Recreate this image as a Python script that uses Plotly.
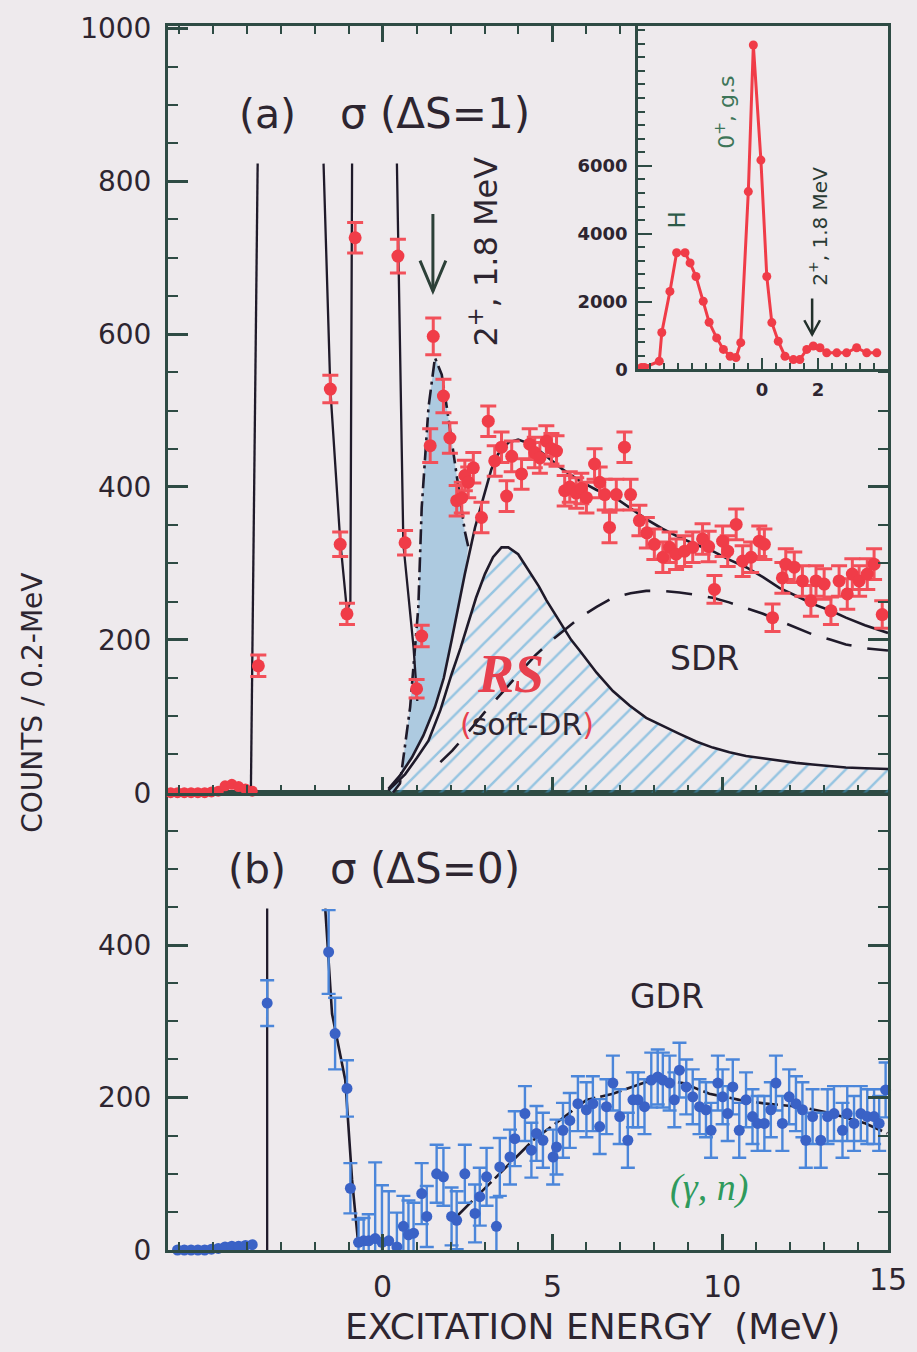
import plotly.graph_objects as go

# ---------------- panel (a): sigma(dS=1) ----------------
# flat region below the first peak
a_base_E = [-6.24, -6.04, -5.84, -5.64, -5.44, -5.24, -5.04, -4.84, -4.64, -4.44, -4.24, -4.04, -3.84]
a_base_cnt = [0, 0, 0, 0, 0, 0, 1, 2, 9, 11, 8, 5, 2]
a_base_err = [3] * 13

# discrete peaks and continuum (counts / 0.2 MeV)
a_E = [-3.66, -1.54, -1.25, -1.05, -0.81, 0.45, 0.66, 1.00, 1.15,
       1.40, 1.49, 1.79, 1.98, 2.18, 2.33, 2.42, 2.52, 2.67, 2.91, 3.11, 3.30, 3.50,
       3.65, 3.80, 4.09, 4.33, 4.48, 4.63, 4.82, 4.97, 5.12, 5.36, 5.51, 5.70, 5.85,
       6.00, 6.24, 6.39, 6.54, 6.68, 6.88, 7.12, 7.30, 7.56, 7.78, 8.00, 8.25, 8.45,
       8.64, 8.89, 9.13, 9.42, 9.60, 9.77, 10.01, 10.16, 10.41, 10.60, 10.85, 11.09,
       11.24, 11.48, 11.77, 11.87, 12.12, 12.36, 12.61, 12.76, 13.00, 13.20, 13.44,
       13.68, 13.83, 14.03, 14.27, 14.47, 14.71]
a_cnt = [166, 528, 325, 234, 726, 702, 327, 136, 205,
         454, 597, 519, 464, 382, 386, 415, 406, 425, 360, 486, 434, 452,
         388, 440, 417, 456, 445, 438, 460, 450, 447, 395, 400, 392, 398,
         386, 430, 406, 390, 347, 390, 452, 390, 356, 340, 325, 308, 321,
         312, 316, 321, 332, 322, 266, 329, 316, 351, 303, 308, 329,
         325, 229, 281, 299, 295, 277, 251, 277, 273, 238, 277,
         260, 286, 277, 286, 299, 233]
a_err = [14, 18, 16, 14, 20, 22, 16, 12, 14,
         22, 24, 22, 20, 20, 20, 20, 20, 20, 20, 20, 20, 20,
         20, 20, 20, 20, 20, 20, 20, 20, 20, 20, 20, 20, 20,
         20, 20, 20, 20, 20, 20, 20, 20, 20, 20, 20, 20, 20,
         20, 20, 20, 20, 20, 18, 20, 20, 20, 20, 20, 20,
         20, 18, 20, 20, 20, 20, 20, 20, 20, 18, 20,
         20, 20, 20, 20, 20, 18]

# fitted peak shapes (drawn only up to the clip height)
pk1_E = [-3.88, -3.68]
pk1_cnt = [0, 823]
gs_E = [-1.74, -1.54, -1.25, -1.05, -0.95, -0.92, -0.90]
gs_cnt = [823, 528, 330, 238, 250, 500, 823]
gs_tail_E = [0.42, 0.61, 0.91, 1.00, 1.02]
gs_tail_cnt = [823, 325, 190, 133, 120]

# 2+ (1.8 MeV) state, dash-dot
s2_E = [0.30, 0.51, 0.81, 1.05, 1.15, 1.35, 1.54, 1.74, 1.89, 2.18, 2.42, 2.52]
s2_cnt = [0, 12, 112, 242, 373, 504, 569, 547, 504, 417, 342, 322]

# total fit
tot_E = [0.17, 0.50, 0.86, 1.20, 1.54, 1.80, 2.03, 2.22, 2.42, 2.72, 3.01, 3.20, 3.40,
         3.70, 3.99, 4.30, 4.63, 4.82, 5.30, 5.80, 6.30, 6.78, 7.30, 7.76, 8.25, 8.74,
         9.20, 9.72, 10.20, 10.70, 11.20, 11.68, 12.20, 12.66, 13.20, 13.64, 14.20, 14.88]
tot_cnt = [5, 22, 46, 75, 112, 150, 199, 243, 286, 347, 395, 423, 443,
           458, 462, 457, 447, 440, 423, 408, 396, 388, 372, 358, 345, 334,
           325, 316, 305, 295, 282, 268, 257, 247, 238, 229, 219, 209]

# soft dipole resonance (RS)
rs_E = [0.17, 0.66, 1.00, 1.35, 1.70, 2.03, 2.30, 2.52, 2.75, 3.01, 3.25, 3.50, 3.70,
        3.99, 4.20, 4.38, 4.60, 4.82, 5.06, 5.31, 5.55, 5.80, 6.30, 6.78, 7.27, 7.76,
        8.25, 8.74, 9.23, 9.72, 10.21, 10.70, 11.19, 11.68, 12.17, 12.66, 13.15,
        13.64, 14.20, 14.88]
rs_cnt = [3, 24, 45, 68, 108, 155, 190, 221, 255, 286, 308, 321, 321,
          312, 298, 286, 270, 252, 235, 217, 200, 186, 157, 133, 114, 98,
          87, 77, 67, 59, 53, 48, 45, 42, 39, 37, 35,
          33, 32, 31]

# spin-dipole resonance (SDR)
sdr_E = [1.70, 2.05, 2.50, 3.00, 3.50, 4.00, 4.50, 5.00, 5.40, 5.80, 6.30, 6.78, 7.30,
         7.76, 8.25, 8.74, 9.20, 9.72, 10.20, 10.70, 11.20, 11.68, 12.20, 12.66, 13.20,
         13.64, 14.20, 14.88]
sdr_cnt = [40, 55, 78, 105, 130, 155, 180, 200, 215, 229, 243, 255, 261,
           264, 264, 262, 259, 255, 249, 242, 234, 225, 216, 207, 200,
           194, 189, 186]

# arrow marking the 2+ state in panel (a): energy, tail and tip heights
arr_a_E = 1.48
arr_a_cnt = [757, 656]

# ---------------- panel (b): sigma(dS=0) ----------------
b_base_E = [-6.04, -5.84, -5.64, -5.44, -5.24, -5.04, -4.84, -4.64, -4.44, -4.24, -4.04, -3.84]
b_base_cnt = [0, 0, 0, 0, 0, 1, 2, 4, 5, 5, 6, 7]
b_base_err = [3] * 12

b_E = [-3.40, -1.59, -1.40, -1.05, -0.95, -0.71, -0.56, -0.41, -0.22, -0.02, 0.18,
       0.42, 0.61, 0.76, 0.91, 1.15, 1.30, 1.59, 1.79, 2.03, 2.18, 2.42, 2.72, 2.86,
       3.06, 3.35, 3.45, 3.75, 3.89, 4.19, 4.38, 4.53, 4.72, 5.02, 5.12, 5.31, 5.51,
       5.75, 6.00, 6.19, 6.39, 6.59, 6.78, 6.98, 7.22, 7.37, 7.52, 7.71, 7.91, 8.10,
       8.25, 8.45, 8.59, 8.74, 8.94, 9.13, 9.33, 9.52, 9.67, 9.87, 10.01, 10.16,
       10.31, 10.50, 10.70, 10.89, 11.04, 11.24, 11.43, 11.58, 11.77, 11.97, 12.17,
       12.36, 12.46, 12.66, 12.90, 13.10, 13.29, 13.54, 13.68, 13.88, 14.08, 14.27,
       14.47, 14.62, 14.81]
b_cnt = [324, 391, 284, 212, 81, 10, 12, 12, 15, 10, 12,
         4, 31, 20, 22, 74, 44, 100, 96, 44, 39, 100, 48, 70,
         96, 31, 109, 122, 146, 179, 131, 153, 144, 122, 135, 157, 170,
         192, 184, 192, 162, 188, 219, 175, 144, 197, 197, 188, 223, 227,
         223, 219, 197, 236, 214, 201, 188, 184, 157, 219, 201, 179,
         214, 157, 197, 175, 166, 166, 184, 219, 166, 201, 192,
         184, 144, 175, 144, 175, 179, 157, 179, 166, 179, 175,
         175, 166, 210]
b_err = [30, 55, 47, 37, 33, 30, 30, 35, 100, 75, 65,
         45, 40, 45, 40, 40, 40, 38, 38, 38, 38, 38, 38, 38,
         38, 38, 38, 36, 36, 36, 36, 36, 36, 36, 36, 36, 36,
         36, 36, 36, 36, 36, 36, 36, 36, 36, 36, 36, 36, 36,
         36, 36, 36, 36, 36, 36, 36, 36, 36, 36, 36, 36,
         36, 36, 36, 36, 36, 36, 36, 36, 36, 36, 36,
         36, 36, 36, 36, 36, 36, 36, 36, 36, 36, 36,
         36, 36, 36]

bpk1_E = [-3.40, -3.40]
bpk1_cnt = [0, 448]
bgs_E = [-1.69, -1.49, -1.10, -0.90, -0.71]
bgs_cnt = [448, 310, 223, 92, 4]

gdr_E = [2.18, 2.96, 3.75, 4.43, 5.21, 6.00, 6.78, 7.37, 8.05, 8.84, 9.62, 10.50,
         11.29, 12.27, 13.24, 14.22, 14.86]
gdr_cnt = [44, 79, 114, 144, 170, 197, 205, 214, 225, 219, 205, 197,
           192, 188, 179, 166, 153]

# ---------------- inset: full spectrum ----------------
ins_E = [-4.30, -4.20, -3.67, -3.58, -3.29, -3.05, -2.75, -2.57, -2.36, -2.10, -1.89,
         -1.62, -1.38, -1.14, -0.93, -0.76, -0.49, -0.31, -0.04, 0.17, 0.35, 0.58,
         0.82, 1.12, 1.35, 1.60, 1.83, 2.07, 2.31, 2.67, 3.02, 3.38, 3.74, 4.10]
ins_cnt = [60, 60, 245, 1090, 2300, 3440, 3440, 3140, 2740, 2010, 1390,
           930, 590, 390, 350, 790, 5240, 9560, 6170, 2740, 1380, 830,
           390, 290, 290, 590, 690, 640, 490, 490, 490, 640, 490, 490]

# arrow marking the 2+ state in the inset
arr_i_E = 1.79
arr_i_cnt = [2090, 1030]

# ---------------- styling ----------------
BG = "#eeeaed"
AX = "#2e4b44"
TXT = "#2d2530"
RED = "#f03c48"
RED_BAR = "#f2505a"
BLUE = "#3a62c6"
BLUE_BAR = "#4b86da"
FIT = "#1f1a2a"
FILL_BLUE = "#adcae0"
HATCH = "#3f9fd6"
FONT = "DejaVu Sans"

fig = go.Figure()

# hatched RS area
fig.add_trace(go.Scatter(
    x=rs_E, y=rs_cnt, xaxis="x2", yaxis="y2", mode="lines", fill="tozeroy",
    fillcolor="rgba(0,0,0,0)", line=dict(width=0),
    fillpattern=dict(shape="/", fgcolor=HATCH, bgcolor="rgba(0,0,0,0)", size=15, solidity=0.17),
    hoverinfo="skip", showlegend=False))

# shaded 2+ state between dash-dot and total fit
fill_x = s2_E + [e for e in reversed(tot_E) if e <= 2.45]
fill_y = s2_cnt + [c for e, c in zip(reversed(tot_E), reversed(tot_cnt)) if e <= 2.45]
fig.add_trace(go.Scatter(
    x=fill_x, y=fill_y, xaxis="x2", yaxis="y2", mode="lines", fill="toself",
    fillcolor=FILL_BLUE, line=dict(width=0), hoverinfo="skip", showlegend=False))

def fit_line(x, y, xa, ya, dash="solid", width=2.6):
    fig.add_trace(go.Scatter(x=x, y=y, xaxis=xa, yaxis=ya, mode="lines",
                             line=dict(color=FIT, width=width, dash=dash),
                             hoverinfo="skip", showlegend=False))

fit_line(pk1_E, pk1_cnt, "x2", "y2", width=2.3)
fit_line(gs_E, gs_cnt, "x2", "y2", width=2.3)
fit_line(gs_tail_E, gs_tail_cnt, "x2", "y2", width=2.3)
fit_line(s2_E, s2_cnt, "x2", "y2", dash="15px,5px,3px,5px")
fit_line(tot_E, tot_cnt, "x2", "y2")
fit_line(rs_E, rs_cnt, "x2", "y2")
fit_line(sdr_E, sdr_cnt, "x2", "y2", dash="26px,16px")

fit_line(bpk1_E, bpk1_cnt, "x", "y", width=2.3)
fit_line(bgs_E, bgs_cnt, "x", "y")
fit_line(gdr_E, gdr_cnt, "x", "y", dash="22px,5px")

def points(x, y, err, xa, ya, col, barcol, size, cap, thick):
    fig.add_trace(go.Scatter(
        x=x, y=y, xaxis=xa, yaxis=ya, mode="markers",
        marker=dict(color=col, size=size),
        error_y=dict(type="data", array=err, color=barcol, thickness=thick, width=cap),
        cliponaxis=False, showlegend=False))

points(a_base_E, a_base_cnt, a_base_err, "x2", "y2", RED, RED_BAR, 11, 0, 2)
points(a_E, a_cnt, a_err, "x2", "y2", RED, RED_BAR, 13, 8, 3)
points(b_base_E, b_base_cnt, b_base_err, "x", "y", BLUE, BLUE_BAR, 11, 0, 2)
points(b_E, b_cnt, b_err, "x", "y", BLUE, BLUE_BAR, 11, 7, 2.4)

# inset spectrum
fig.add_trace(go.Scatter(
    x=ins_E, y=ins_cnt, xaxis="x3", yaxis="y3", mode="lines+markers",
    line=dict(color=RED, width=3), marker=dict(color=RED, size=9),
    cliponaxis=False, showlegend=False))

# state arrows: shaft plus open V head, in data coordinates
def arrow(xa, ya, e, cnt, half_w, head_h, col, width):
    top, tip = cnt
    fig.add_shape(type="line", xref=xa, yref=ya, x0=e, x1=e, y0=top, y1=tip,
                  line=dict(color=col, width=width))
    fig.add_shape(type="path", xref=xa, yref=ya,
                  path=f"M {e - half_w},{tip + head_h} L {e},{tip} L {e + half_w},{tip + head_h}",
                  line=dict(color=col, width=width))

arrow("x2", "y2", arr_a_E, arr_a_cnt, 0.38, 40, "#2c4038", 3)
arrow("x3", "y3", arr_i_E, arr_i_cnt, 0.28, 420, "#22302b", 2.5)

tickfont = dict(family=FONT, size=28, color=TXT)
minor_common = dict(ticks="inside", tickcolor=AX, tickwidth=2)

xcommon = dict(
    range=[-6.32, 14.88], tickmode="array", tickvals=[0, 5, 10],
    ticks="inside", ticklen=16, tickwidth=2.5,
    tickcolor=AX, showline=True, linecolor=AX, linewidth=3, showgrid=False,
    zeroline=False, tickfont=dict(family=FONT, size=30, color=TXT),
    minor=dict(dtick=1, tick0=0, ticklen=8, **minor_common))

fig.update_layout(
    width=917, height=1352,
    margin=dict(l=168, r=29, t=24, b=102),
    paper_bgcolor=BG, plot_bgcolor=BG,
    showlegend=False,
    xaxis=dict(domain=[0, 1], anchor="y", mirror=True, ticklabelstandoff=8, **xcommon),
    xaxis2=dict(domain=[0, 1], anchor="y2", matches="x", mirror="allticks",
                showticklabels=False, **xcommon),
    yaxis=dict(domain=[0, 0.3736], anchor="x", range=[0, 600], tickmode="array",
               tickvals=[0, 200, 400], ticks="inside", ticklen=20, tickwidth=2.5,
               tickcolor=AX, showline=True, linecolor=AX, linewidth=3,
               mirror="allticks", showgrid=False, zeroline=False, tickfont=tickfont,
               ticklabelstandoff=8,
               minor=dict(dtick=50, tick0=0, ticklen=10, **minor_common)),
    yaxis2=dict(domain=[0.3736, 1], anchor="x2", range=[0, 1003], tickmode="array",
                tickvals=[0, 200, 400, 600, 800, 1000], ticks="inside", ticklen=20,
                tickwidth=2.5, tickcolor=AX, showline=True, linecolor=AX, linewidth=3,
                mirror="allticks", showgrid=False, zeroline=False, tickfont=tickfont,
                ticklabelstandoff=8,
                minor=dict(dtick=50, tick0=0, ticklen=10, **minor_common)),
    xaxis3=dict(domain=[0.6528, 1.0], anchor="y3", range=[-4.43, 4.5],
                tickmode="array", tickvals=[0, 2], ticks="inside", ticklen=12,
                tickwidth=2.2, tickcolor=AX, showline=True, linecolor=AX, linewidth=2.5,
                showgrid=False, zeroline=False, ticklabelstandoff=2,
                tickfont=dict(family=FONT, size=18, color=TXT, weight="bold"),
                minor=dict(dtick=0.5, tick0=0, ticklen=7, ticks="inside",
                           tickcolor=AX, tickwidth=2)),
    yaxis3=dict(domain=[0.7194, 1.0], anchor="x3", range=[0, 10120],
                tickmode="array", tickvals=[0, 2000, 4000, 6000], ticks="inside",
                ticklen=14, tickwidth=2.2, tickcolor=AX, showline=True,
                linecolor=AX, linewidth=2.5, showgrid=False, zeroline=False,
                ticklabelstandoff=4,
                tickfont=dict(family=FONT, size=18, color=TXT, weight="bold"),
                minor=dict(dtick=400, tick0=0, ticklen=7, ticks="inside",
                           tickcolor=AX, tickwidth=2)),
)

def label(text, x, y, size, color=TXT, angle=0, family=FONT, **font_extra):
    fig.add_annotation(text=text, x=x, y=y, xref="paper", yref="paper",
                       xanchor="center", yanchor="middle", showarrow=False,
                       textangle=angle,
                       font=dict(family=family, size=size, color=color, **font_extra))

label("(a)", 0.1375, 0.9282, 41)
label("σ (ΔS=1)", 0.3715, 0.9282, 42)
label("(b)", 0.1236, 0.3116, 41)
label("σ (ΔS=0)", 0.3565, 0.3116, 42)
label("2<sup>+</sup>, 1.8 MeV", 0.4375, 0.8157, 32, angle=-90)
label("RS", 0.475, 0.4706, 54, color="#e8404e", family="Liberation Serif",
      weight="bold", style="italic")
label("<span style='color:#e8404e'>(</span>soft-DR<span style='color:#e8404e'>)</span>",
      0.4986, 0.4290, 30)
label("SDR", 0.7458, 0.4829, 33)
label("GDR", 0.6931, 0.2072, 33)
label("(γ, n)", 0.7514, 0.0514, 38, color="#2f9a5c", family="Liberation Serif",
      style="italic")
label("COUNTS / 0.2-MeV", -0.1875, 0.447, 28, angle=-90)
label("EXCITATION ENERGY  (MeV)", 0.5889, -0.0628, 36)
label("15", 1.0, -0.0245, 30)

# inset labels
label("H", 0.7069, 0.8418, 23, color="#2c5a48", angle=-90)
label("0<sup>+</sup>, g.s", 0.7736, 0.9299, 22, color="#3d7558", angle=-90)
label("2<sup>+</sup>, 1.8 MeV", 0.9028, 0.836, 20, color="#2a3a34", angle=-90)

fig.write_html("out.html")
